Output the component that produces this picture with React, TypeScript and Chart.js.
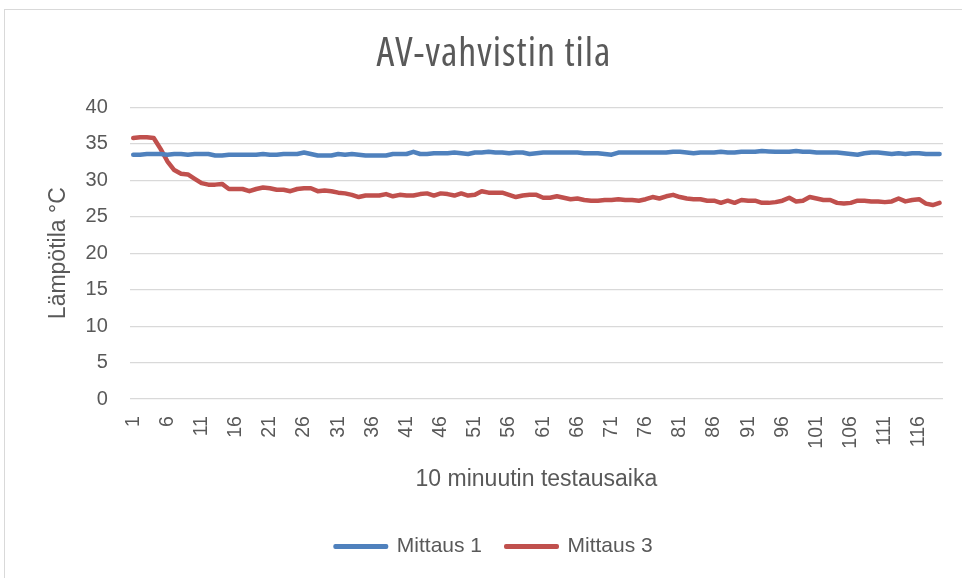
import React, { useEffect, useRef } from 'react';
import { Chart, registerables } from 'chart.js';

Chart.register(...registerables);

// Category axis: measurement index 1..119
const categories: string[] = Array.from({ length: 119 }, (_, i) => String(i + 1));

const seriesNames = ['Mittaus 1', 'Mittaus 3'];
const seriesColors = ['#4F81BD', '#C0504D'];

const mittaus1: number[] = [
  33.5, 33.5, 33.6, 33.6, 33.6, 33.5, 33.6, 33.6, 33.5, 33.6,
  33.6, 33.6, 33.4, 33.4, 33.5, 33.5, 33.5, 33.5, 33.5, 33.6,
  33.5, 33.5, 33.6, 33.6, 33.6, 33.8, 33.6, 33.4, 33.4, 33.4,
  33.6, 33.5, 33.6, 33.5, 33.4, 33.4, 33.4, 33.4, 33.6, 33.6,
  33.6, 33.9, 33.6, 33.6, 33.7, 33.7, 33.7, 33.8, 33.7, 33.6,
  33.8, 33.8, 33.9, 33.8, 33.8, 33.7, 33.8, 33.8, 33.6, 33.7,
  33.8, 33.8, 33.8, 33.8, 33.8, 33.8, 33.7, 33.7, 33.7, 33.6,
  33.5, 33.8, 33.8, 33.8, 33.8, 33.8, 33.8, 33.8, 33.8, 33.9,
  33.9, 33.8, 33.7, 33.8, 33.8, 33.8, 33.9, 33.8, 33.8, 33.9,
  33.9, 33.9, 34.0, 33.95, 33.9, 33.9, 33.9, 34.0, 33.9, 33.9,
  33.8, 33.8, 33.8, 33.8, 33.7, 33.6, 33.5, 33.7, 33.8, 33.8,
  33.7, 33.6, 33.7, 33.6, 33.7, 33.7, 33.6, 33.6, 33.6,
];

const mittaus3: number[] = [
  35.8, 35.9, 35.9, 35.8, 34.3, 32.6, 31.4, 30.9, 30.8, 30.2,
  29.6, 29.4, 29.4, 29.5, 28.8, 28.8, 28.8, 28.5, 28.8, 29.0,
  28.9, 28.7, 28.7, 28.5, 28.8, 28.9, 28.9, 28.5, 28.6, 28.5,
  28.3, 28.2, 28.0, 27.7, 27.9, 27.9, 27.9, 28.1, 27.8, 28.0,
  27.9, 27.9, 28.1, 28.2, 27.9, 28.2, 28.1, 27.9, 28.2, 27.9,
  28.0, 28.5, 28.3, 28.3, 28.3, 28.0, 27.7, 27.9, 28.0, 28.0,
  27.6, 27.6, 27.8, 27.6, 27.4, 27.5, 27.3, 27.2, 27.2, 27.3,
  27.3, 27.4, 27.3, 27.3, 27.2, 27.4, 27.7, 27.5, 27.8, 28.0,
  27.7, 27.5, 27.4, 27.4, 27.2, 27.2, 26.9, 27.2, 26.9, 27.3,
  27.2, 27.2, 26.9, 26.9, 27.0, 27.2, 27.6, 27.1, 27.2, 27.7,
  27.5, 27.3, 27.3, 26.9, 26.8, 26.9, 27.2, 27.2, 27.1, 27.1,
  27.0, 27.1, 27.5, 27.1, 27.3, 27.4, 26.8, 26.6, 26.9,
];

const chartTitle = 'AV-vahvistin tila';
const xTitle = '10 minuutin testausaika';
const yTitle = 'Lämpötila °C';
const yMin = 0;
const yMax = 40;
const yStep = 5;
const labelEvery = 5;

const TEXT = '#595959';
const SANS = "'Liberation Sans', Arial, sans-serif";
const NARROW = "'Open Sans', 'Liberation Sans', sans-serif";

// Widen the condensed title slightly with letter spacing
const titleSpacingPlugin = {
  id: 'titleSpacing',
  beforeDraw(chart: any) {
    const tb = chart.titleBlock;
    if (!tb || tb.__spaced) return;
    const orig = tb.draw.bind(tb);
    tb.draw = (...args: any[]) => {
      const ctx = chart.ctx;
      ctx.save();
      (ctx as any).letterSpacing = '1px';
      orig(...args);
      ctx.restore();
    };
    tb.__spaced = true;
  },
};

export default function App() {
  const ref = useRef<HTMLCanvasElement | null>(null);

  useEffect(() => {
    if (!ref.current) return;
    Chart.defaults.font.family = SANS;
    const chart = new Chart(ref.current, {
      type: 'line',
      data: {
        labels: categories,
        datasets: [mittaus1, mittaus3].map((vals, i) => ({
          label: seriesNames[i],
          data: vals,
          borderColor: seriesColors[i],
          backgroundColor: seriesColors[i],
          borderWidth: 4.5,
          pointRadius: 0,
          tension: 0,
          borderCapStyle: 'round' as const,
          borderJoinStyle: 'round' as const,
          fill: false,
        })),
      },
      plugins: [titleSpacingPlugin],
      options: {
        responsive: false,
        animation: false,
        layout: { padding: { left: 45, right: 19, top: 30.2, bottom: 11 } },
        plugins: {
          title: {
            display: true,
            text: chartTitle,
            color: TEXT,
            font: { family: NARROW, size: 40, style: 'normal', weight: 'condensed' },
            padding: { top: 0, bottom: 29.1 },
          },
          legend: {
            position: 'bottom',
            labels: {
              boxWidth: 51,
              boxHeight: 1,
              padding: 24,
              color: TEXT,
              font: { family: SANS, size: 21 },
              generateLabels: (c: any) =>
                c.data.datasets.map((ds: any, i: number) => ({
                  text: ds.label,
                  fillStyle: ds.borderColor,
                  strokeStyle: ds.borderColor,
                  lineWidth: 4,
                  lineCap: 'round',
                  lineJoin: 'round',
                  hidden: false,
                  datasetIndex: i,
                  fontColor: TEXT,
                })),
            },
          },
          tooltip: { enabled: false },
        },
        scales: {
          x: {
            type: 'category',
            offset: true,
            grid: { display: false, drawTicks: false },
            border: { display: false },
            ticks: {
              autoSkip: false,
              minRotation: 90,
              maxRotation: 90,
              padding: 17,
              color: TEXT,
              font: { size: 19.5 },
              callback: (_v: any, i: number) => (i % labelEvery === 0 ? categories[i] : ''),
            },
            title: {
              display: true,
              text: xTitle,
              color: TEXT,
              font: { size: 23 },
              padding: { top: 0, bottom: 19 },
            },
            afterFit: (s: any) => {
              s.height = 112.9;
              s.paddingLeft = 0;
              s.paddingRight = 0;
            },
          },
          y: {
            min: yMin,
            max: yMax,
            ticks: { stepSize: yStep, padding: 22, color: TEXT, font: { size: 20 } },
            grid: { color: '#D9D9D9', lineWidth: 1.3, drawTicks: false },
            border: { display: false },
            title: {
              display: true,
              text: yTitle,
              color: TEXT,
              font: { size: 23 },
              padding: { top: 0, bottom: 0 },
            },
            afterFit: (s: any) => {
              s.width = 84.8;
            },
          },
        },
      },
    } as any);
    return () => chart.destroy();
  }, []);

  return (
    <div style={{ position: 'fixed', left: 0, top: 0, width: 962, height: 578, background: '#fff', overflow: 'hidden' }}>
      <div
        style={{
          position: 'absolute',
          left: 4,
          top: 9,
          width: 970,
          height: 600,
          border: '1px solid #D9D9D9',
          boxSizing: 'border-box',
        }}
      />
      <canvas ref={ref} width={962} height={578} style={{ position: 'absolute', left: 0, top: 0 }} />
    </div>
  );
}
